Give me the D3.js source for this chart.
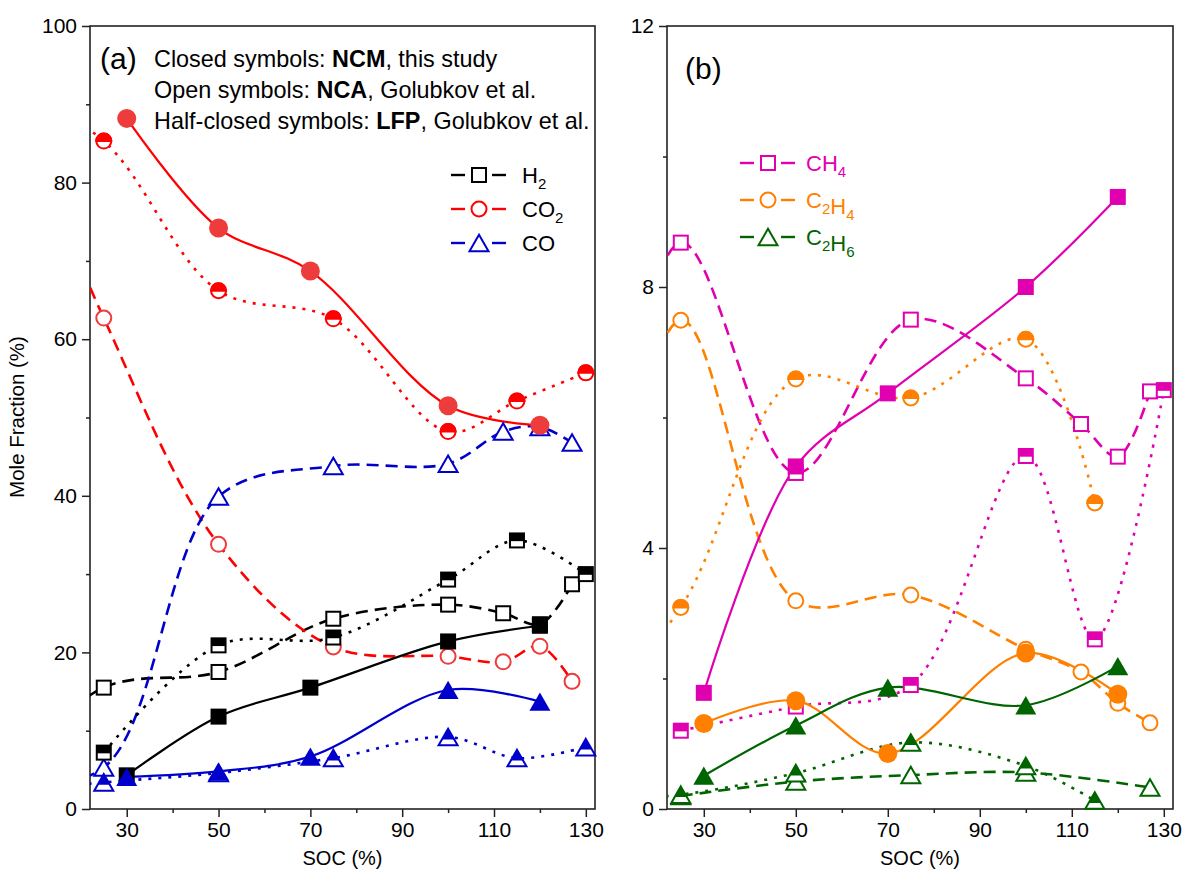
<!DOCTYPE html>
<html>
<head>
<meta charset="utf-8">
<title>Mole fraction vs SOC</title>
<script src="https://cdn.jsdelivr.net/npm/d3@7/dist/d3.min.js"></script>
<style>
body { margin: 0; background: #fff; }
svg text { font-family: "Liberation Sans", Arial, Helvetica, sans-serif; }
</style>
</head>
<body>
<svg id="chartsvg" width="1186" height="883"></svg>
<script>
/*global d3 */

//SOC values per data source (Golubkov 0% points sit left of the axis range)
var socNCM = [30, 50, 70, 100, 120];
var socNCA = [0, 25, 50, 75, 100, 112, 120, 127];
var socLFP = [0, 25, 50, 75, 100, 115, 130];

//panel (a) mole fractions, %
var h2NCM = [4.3, 11.8, 15.5, 21.4, 23.4];
var co2NCM = [88.2, 74.2, 68.7, 51.5, 49.0];
var coNCM = [4.1, 4.8, 6.7, 15.2, 13.7];
var h2NCA = [3, 15.5, 17.5, 24.3, 26.1, 25.0, 23.6, 28.7];
var co2NCA = [98, 62.7, 33.8, 20.7, 19.5, 18.8, 20.8, 16.3];
var coNCA = [3, 5.3, 39.9, 43.8, 44.1, 48.2, 48.8, 46.8];
var h2LFP = [null, 7.2, 20.9, 21.9, 29.3, 34.3, 30.0];
var co2LFP = [94, 85.3, 66.2, 62.6, 48.2, 52.1, 55.7];
var coLFP = [2, 3.4, 4.6, 6.5, 9.2, 6.5, 7.9];

//panel (b) mole fractions, %
var ch4NCM = [1.78, 5.25, 6.37, 8.0, 9.38];
var c2h4NCM = [1.31, 1.66, 0.85, 2.39, 1.76];
var c2h6NCM = [0.51, 1.28, 1.86, 1.59, 2.19];
var ch4NCA = [0.5, 8.68, 5.15, 7.5, 6.6, 5.9, 5.4, 6.4];
var c2h4NCA = [0.5, 7.49, 3.19, 3.28, 2.45, 2.10, 1.62, 1.32];
var c2h6NCA = [null, 0.2, 0.42, 0.52, 0.56, null, null, 0.33];
var ch4LFP = [null, 1.2, 1.57, 1.9, 5.41, 2.6, 6.42];
var c2h4LFP = [1, 3.09, 6.59, 6.3, 7.2, 4.69, null];
var c2h6LFP = [0.1, 0.22, 0.55, 1.02, 0.66, 0.13, null];

//axis ticks
var xMajor = [30, 50, 70, 90, 110, 130];
var xMinor = [40, 60, 80, 100, 120];
var yMajorA = [0, 20, 40, 60, 80, 100];
var yMinorA = [10, 30, 50, 70, 90];
var yMajorB = [0, 4, 8, 12];
var yMinorB = [2, 6, 10];

var app = (function () {
    "use strict";

    var svg, colors = {
        h2: "#000000", co2: "#ff0000", co2mk: "#ee3b3b", co: "#0000cc",
        ch4: "#e000b0", c2h4: "#ff8000", c2h6: "#006400"},
        dashes = {NCM: null, NCA: "12,7", LFP: "3,7"},
        fills = {NCM: "closed", NCA: "open", LFP: "half"};


    function makePanel (id, left, right, ydom, ymaj, ymin) {
        var p = {id: id, left: left, right: right, top: 26, bottom: 809};
        p.x = d3.scaleLinear().domain([22, 132]).range([left, right]);
        p.y = d3.scaleLinear().domain(ydom).range([p.bottom, p.top]);
        p.ymaj = ymaj;
        p.ymin = ymin;
        p.g = svg.append("g").attr("id", id);
        p.g.append("clipPath").attr("id", id + "clip")
            .append("rect")
            .attr("x", left).attr("y", p.top)
            .attr("width", right - left).attr("height", p.bottom - p.top);
        return p;
    }


    function drawAxes (p) {
        var g = p.g;
        g.append("g").attr("transform", "translate(0," + p.bottom + ")")
            .call(d3.axisBottom(p.x).tickValues(xMajor).tickSize(8)
                  .tickPadding(5).tickFormat(d3.format("d")));
        g.append("g").attr("transform", "translate(0," + p.bottom + ")")
            .call(d3.axisBottom(p.x).tickValues(xMinor).tickSize(4)
                  .tickFormat(""));
        g.append("g").attr("transform", "translate(" + p.left + ",0)")
            .call(d3.axisLeft(p.y).tickValues(p.ymaj).tickSize(8)
                  .tickPadding(5).tickFormat(d3.format("d")));
        g.append("g").attr("transform", "translate(" + p.left + ",0)")
            .call(d3.axisLeft(p.y).tickValues(p.ymin).tickSize(4)
                  .tickFormat(""));
        g.selectAll(".domain").remove();
        g.selectAll(".tick line").attr("stroke", "#222")
            .attr("stroke-width", 1.5);
        g.selectAll(".tick text").attr("font-size", 21).attr("fill", "#000")
            .attr("font-family", "Liberation Sans, Arial, sans-serif");
        g.append("rect")
            .attr("x", p.left).attr("y", p.top)
            .attr("width", p.right - p.left).attr("height", p.bottom - p.top)
            .attr("fill", "none").attr("stroke", "#222")
            .attr("stroke-width", 1.6);
        g.append("text")
            .attr("x", (p.left + p.right) / 2).attr("y", 865)
            .attr("text-anchor", "middle").attr("font-size", 20)
            .text("SOC (%)");
    }


    function marker (g, shape, mode, color, cx, cy) {
        var s, h, r, tri;
        if(shape === "square") {
            s = (mode === "closed") ? 16 : 14;
            g.append("rect")
                .attr("x", cx - s / 2).attr("y", cy - s / 2)
                .attr("width", s).attr("height", s)
                .attr("fill", (mode === "closed") ? color : "#fff")
                .attr("stroke", color).attr("stroke-width",
                                            (mode === "closed") ? 0 : 2);
            if(mode === "half") {
                g.append("rect")
                    .attr("x", cx - s / 2).attr("y", cy - s / 2)
                    .attr("width", s).attr("height", s * 0.55)
                    .attr("fill", color); } }
        else if(shape === "circle") {
            r = (mode === "closed") ? 9.5 : 7.5;
            g.append("circle")
                .attr("cx", cx).attr("cy", cy).attr("r", r)
                .attr("fill", (mode === "closed") ? color : "#fff")
                .attr("stroke", color).attr("stroke-width",
                                            (mode === "closed") ? 0 : 2);
            if(mode === "half") {
                g.append("path")
                    .attr("d", "M" + (cx - r) + "," + cy + "A" + r + "," + r +
                          " 0 0 1 " + (cx + r) + "," + cy + "Z")
                    .attr("fill", color).attr("stroke", color)
                    .attr("stroke-width", 2); } }
        else {
            s = (mode === "closed") ? 21 : 19;
            h = s * 0.87;
            tri = [[cx, cy - h / 2], [cx + s / 2, cy + h / 2],
                   [cx - s / 2, cy + h / 2]];
            g.append("path")
                .attr("d", "M" + tri.join("L") + "Z")
                .attr("fill", (mode === "closed") ? color : "#fff")
                .attr("stroke", color).attr("stroke-width",
                                            (mode === "closed") ? 0 : 2)
                .attr("stroke-linejoin", "miter");
            if(mode === "half") {
                //fill the upper part of the triangle down to 65% of its height
                g.append("path")
                    .attr("d", "M" + [[cx, cy - h / 2],
                                      [cx + s * 0.325, cy + h * 0.15],
                                      [cx - s * 0.325, cy + h * 0.15]]
                          .join("L") + "Z")
                    .attr("fill", color); } }
    }


    function drawSeries (p, ser) {
        var pts = [], line;
        ser.xs.forEach(function (xv, i) {
            if(ser.ys[i] !== null) {
                pts.push([xv, ser.ys[i]]); } });
        line = d3.line()
            .x(function (d) { return p.x(d[0]); })
            .y(function (d) { return p.y(d[1]); })
            .curve(d3.curveCatmullRom.alpha(0.5));
        p.lines.append("path")
            .attr("d", line(pts))
            .attr("fill", "none")
            .attr("stroke", ser.color)
            .attr("stroke-width", (ser.src === "NCM") ? 2.2 : 2.6)
            .attr("stroke-dasharray", dashes[ser.src]);
        pts.forEach(function (d) {
            if(d[0] >= 22) {
                marker(p.marks, ser.shape, fills[ser.src],
                       ser.mcolor || ser.color, p.x(d[0]), p.y(d[1])); } });
    }


    function legendRow (g, sx, y, shape, color, label, sub, lay) {
        var t;
        [[sx - 28, sx - 14], [sx + 13, sx + 27]].forEach(function (seg) {
            g.append("line")
                .attr("x1", seg[0]).attr("x2", seg[1])
                .attr("y1", y).attr("y2", y)
                .attr("stroke", color).attr("stroke-width", 2.4); });
        marker(g, shape, "open", color, sx, y);
        t = g.append("text")
            .attr("x", sx + lay.dx).attr("y", y + 8)
            .attr("font-size", 22).attr("fill", lay.tcolor || color);
        label.forEach(function (part, i) {
            t.append("tspan").text(part);
            if(sub[i]) {
                t.append("tspan").attr("font-size", 15).attr("dy", 6)
                    .text(sub[i]);
                t.append("tspan").attr("font-size", 22).attr("dy", -6)
                    .text(""); } });
    }


    function drawPanelA () {
        var p = makePanel("pana", 90, 595, [0, 100], yMajorA, yMinorA),
            t, notes, lay = {dx: 43, tcolor: "#000"};
        drawAxes(p);
        p.lines = p.g.append("g").attr("clip-path", "url(#panaclip)");
        p.marks = p.g.append("g");
        [{src: "NCA", xs: socNCA, ys: h2NCA, color: colors.h2, shape: "square"},
         {src: "NCA", xs: socNCA, ys: co2NCA, color: colors.co2, shape: "circle",
          mcolor: colors.co2mk},
         {src: "NCA", xs: socNCA, ys: coNCA, color: colors.co, shape: "triangle"},
         {src: "LFP", xs: socLFP, ys: h2LFP, color: colors.h2, shape: "square"},
         {src: "LFP", xs: socLFP, ys: co2LFP, color: colors.co2, shape: "circle"},
         {src: "LFP", xs: socLFP, ys: coLFP, color: colors.co, shape: "triangle"},
         {src: "NCM", xs: socNCM, ys: h2NCM, color: colors.h2, shape: "square"},
         {src: "NCM", xs: socNCM, ys: co2NCM, color: colors.co2, shape: "circle",
          mcolor: colors.co2mk},
         {src: "NCM", xs: socNCM, ys: coNCM, color: colors.co, shape: "triangle"}]
            .forEach(function (ser) { drawSeries(p, ser); });
        p.g.append("text").attr("x", 100).attr("y", 69)
            .attr("font-size", 30).text("(a)");
        notes = [["Closed symbols: ", "NCM", ", this study"],
                 ["Open symbols: ", "NCA", ", Golubkov et al."],
                 ["Half-closed symbols: ", "LFP", ", Golubkov et al."]];
        notes.forEach(function (parts, i) {
            t = p.g.append("text").attr("x", 154).attr("y", 67 + i * 31)
                .attr("font-size", 23.4);
            t.append("tspan").text(parts[0]);
            t.append("tspan").attr("font-weight", "bold").text(parts[1]);
            t.append("tspan").text(parts[2]); });
        legendRow(p.g, 479, 175, "square", colors.h2, ["H"], ["2"], lay);
        legendRow(p.g, 479, 209, "circle", colors.co2, ["CO"], ["2"], lay);
        legendRow(p.g, 479, 243, "triangle", colors.co, ["CO"], [""], lay);
        svg.append("text")
            .attr("transform", "translate(24,417) rotate(-90)")
            .attr("text-anchor", "middle").attr("font-size", 20.5)
            .text("Mole Fraction (%)");
    }


    function drawPanelB () {
        var p = makePanel("panb", 667, 1173, [0, 12], yMajorB, yMinorB),
            lay = {dx: 38};
        drawAxes(p);
        p.lines = p.g.append("g").attr("clip-path", "url(#panbclip)");
        p.marks = p.g.append("g");
        [{src: "NCA", xs: socNCA, ys: ch4NCA, color: colors.ch4, shape: "square"},
         {src: "NCA", xs: socNCA, ys: c2h4NCA, color: colors.c2h4, shape: "circle"},
         {src: "NCA", xs: socNCA, ys: c2h6NCA, color: colors.c2h6, shape: "triangle"},
         {src: "LFP", xs: socLFP, ys: ch4LFP, color: colors.ch4, shape: "square"},
         {src: "LFP", xs: socLFP, ys: c2h4LFP, color: colors.c2h4, shape: "circle"},
         {src: "LFP", xs: socLFP, ys: c2h6LFP, color: colors.c2h6, shape: "triangle"},
         {src: "NCM", xs: socNCM, ys: ch4NCM, color: colors.ch4, shape: "square"},
         {src: "NCM", xs: socNCM, ys: c2h4NCM, color: colors.c2h4, shape: "circle"},
         {src: "NCM", xs: socNCM, ys: c2h6NCM, color: colors.c2h6, shape: "triangle"}]
            .forEach(function (ser) { drawSeries(p, ser); });
        p.g.append("text").attr("x", 685).attr("y", 79)
            .attr("font-size", 30).text("(b)");
        legendRow(p.g, 768, 163, "square", colors.ch4, ["CH"], ["4"], lay);
        legendRow(p.g, 768, 200, "circle", colors.c2h4, ["C", "H"], ["2", "4"],
                  lay);
        legendRow(p.g, 768, 237, "triangle", colors.c2h6, ["C", "H"], ["2", "6"],
                  lay);
    }


return {
    init: function () {
        svg = d3.select("#chartsvg");
        drawPanelA();
        drawPanelB();
    }
};
}());

app.init();
</script>
</body>
</html>
